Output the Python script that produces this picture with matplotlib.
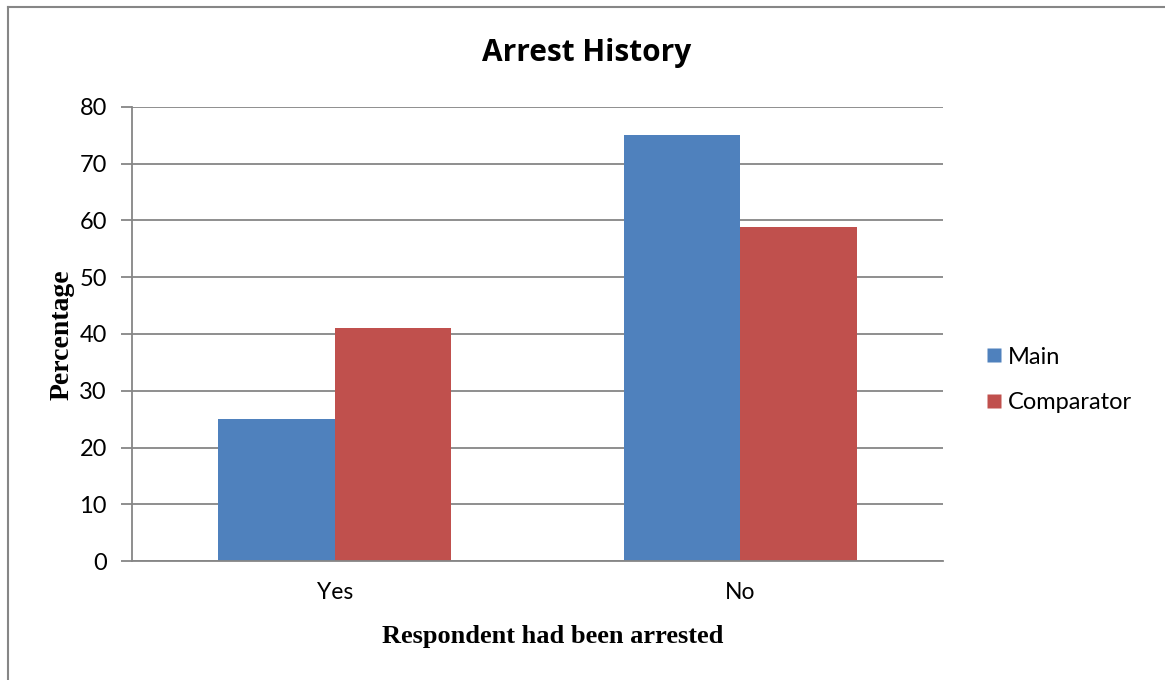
import matplotlib
matplotlib.use("Agg")
import matplotlib.pyplot as plt
from matplotlib.lines import Line2D
import numpy as np

categories = ["Yes", "No"]
main_vals = [25, 75]
comp_vals = [41.1, 58.9]
series_names = ["Main", "Comparator"]
yticks = [0, 10, 20, 30, 40, 50, 60, 70, 80]

blue = "#4F81BD"
red = "#C0504D"
grid_c = "#868686"

fig = plt.figure(figsize=(11.65, 6.8), dpi=100)
ax = fig.add_axes([132/1165, 1-561/680, (943-132)/1165, (561-107)/680])

x = np.arange(len(categories))
w = 0.287
ax.bar(x - w/2, main_vals, width=w, color=blue, label=series_names[0], edgecolor="none")
ax.bar(x + w/2, comp_vals, width=w, color=red, label=series_names[1], edgecolor="none")

ax.set_xlim(-0.5, 1.5)
ax.set_ylim(0, 80)
ax.set_yticks(yticks)
ax.set_xticks(x)
ax.set_xticklabels(categories, fontfamily="Lato", fontsize=16.5)
for lab in ax.get_yticklabels():
    lab.set_fontfamily("Lato")
    lab.set_fontsize(17)
ax.yaxis.grid(True, color=grid_c, linewidth=1.3)
ax.set_axisbelow(True)
for s in ["top", "right"]:
    ax.spines[s].set_visible(False)
ax.spines["left"].set_color(grid_c)
ax.spines["bottom"].set_color(grid_c)
ax.spines["left"].set_linewidth(1.3)
ax.spines["bottom"].set_linewidth(1.3)
ax.tick_params(axis="y", length=8, color=grid_c, width=1.3, pad=10)
ax.tick_params(axis="x", length=0, pad=15)

fig.text(587/1165, 1-53/680, "Arrest History", ha="center", va="center",
         fontfamily="Open Sans", fontweight="bold", fontsize=21.5)
fig.text(553/1165, 1-636/680, "Respondent had been arrested", ha="center", va="center",
         fontfamily="Liberation Serif", fontweight="bold", fontsize=19)
fig.text(62/1165, 1-335/680, "Percentage", ha="center", va="center", rotation=90,
         fontfamily="Liberation Serif", fontweight="bold", fontsize=20)

handles = [Line2D([0], [0], marker="s", linestyle="none", markersize=10.5,
                  markerfacecolor=c, markeredgecolor="none") for c in (blue, red)]
leg = fig.legend(handles, series_names, loc="center left",
                 bbox_to_anchor=(961/1165, 1-380/680), frameon=False,
                 prop={"family": "Lato", "size": 17}, handletextpad=0.1,
                 labelspacing=1.05, handlelength=1.0)

fig.add_artist(Line2D([8/1165, 8/1165], [0, 1-7/680], color=grid_c, linewidth=1.5))
fig.add_artist(Line2D([8/1165, 1], [1-7/680, 1-7/680], color=grid_c, linewidth=1.5))

fig.savefig("out.png", dpi=100)
